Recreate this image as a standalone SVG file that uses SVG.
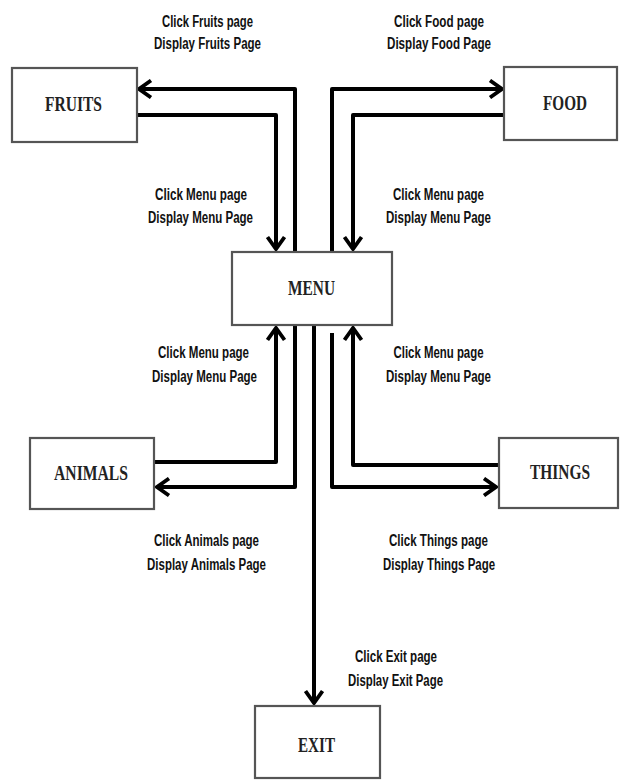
<svg xmlns="http://www.w3.org/2000/svg" width="622" height="780" viewBox="0 0 622 780">
<style>
.box{fill:#fff;stroke:#555;stroke-width:2.2}
.nl{font-family:"Liberation Serif","Times New Roman",serif;font-weight:bold;font-size:22px;fill:#222;text-anchor:middle}
.lb{font-family:"Liberation Sans",Arial,sans-serif;font-weight:bold;font-size:16px;fill:#111;text-anchor:middle}
.c{fill:none;stroke:#000;stroke-width:4;stroke-linejoin:round}
</style>
<defs>
<marker id="ah" viewBox="0 0 18 20" refX="15" refY="10" markerWidth="18" markerHeight="20" markerUnits="userSpaceOnUse" orient="auto">
<path d="M3,1.5 L15,10 L3,18.5" fill="none" stroke="#000" stroke-width="3.8" stroke-linejoin="miter"/>
</marker>
</defs>
<rect width="622" height="780" fill="#fff"/>
<g id="connectors">
<path class="c" d="M295,252 V89 H139" marker-end="url(#ah)"/>
<path class="c" d="M137,115 H276 V249" marker-end="url(#ah)"/>
<path class="c" d="M332,252 V89 H502" marker-end="url(#ah)"/>
<path class="c" d="M504,115 H353 V249" marker-end="url(#ah)"/>
<path class="c" d="M154,462 H276 V328" marker-end="url(#ah)"/>
<path class="c" d="M295,325 V487 H157" marker-end="url(#ah)"/>
<path class="c" d="M499,465 H353 V328" marker-end="url(#ah)"/>
<path class="c" d="M332,333 V487 H496" marker-end="url(#ah)"/>
<path class="c" d="M314,325 V703" marker-end="url(#ah)"/>
</g>
<g id="menu">
<rect class="box" x="232" y="252" width="160" height="73"/>
<text class="nl" x="311.5" y="295" textLength="47" lengthAdjust="spacingAndGlyphs">MENU</text>
</g>
<g id="fruits">
<rect class="box" x="12" y="68" width="125" height="74"/>
<text class="nl" x="73.5" y="111" textLength="57" lengthAdjust="spacingAndGlyphs">FRUITS</text>
</g>
<g id="food">
<rect class="box" x="504" y="67" width="113" height="73"/>
<text class="nl" x="565" y="110" textLength="44" lengthAdjust="spacingAndGlyphs">FOOD</text>
</g>
<g id="animals">
<rect class="box" x="30" y="438" width="124" height="71"/>
<text class="nl" x="91" y="480" textLength="74" lengthAdjust="spacingAndGlyphs">ANIMALS</text>
</g>
<g id="things">
<rect class="box" x="499" y="438" width="119" height="70"/>
<text class="nl" x="560" y="479" textLength="60" lengthAdjust="spacingAndGlyphs">THINGS</text>
</g>
<g id="exit">
<rect class="box" x="255" y="706" width="125" height="72"/>
<text class="nl" x="316.5" y="752" textLength="37" lengthAdjust="spacingAndGlyphs">EXIT</text>
</g>
<g id="labels">
<text class="lb" x="207.5" y="27" textLength="91" lengthAdjust="spacingAndGlyphs">Click Fruits page</text>
<text class="lb" x="207.5" y="49" textLength="107" lengthAdjust="spacingAndGlyphs">Display Fruits Page</text>
<text class="lb" x="439" y="27" textLength="90" lengthAdjust="spacingAndGlyphs">Click Food page</text>
<text class="lb" x="439" y="49" textLength="104" lengthAdjust="spacingAndGlyphs">Display Food Page</text>
<text class="lb" x="201" y="200" textLength="92" lengthAdjust="spacingAndGlyphs">Click Menu page</text>
<text class="lb" x="200.5" y="223" textLength="105" lengthAdjust="spacingAndGlyphs">Display Menu Page</text>
<text class="lb" x="438.5" y="200" textLength="91" lengthAdjust="spacingAndGlyphs">Click Menu page</text>
<text class="lb" x="438.5" y="223" textLength="105" lengthAdjust="spacingAndGlyphs">Display Menu Page</text>
<text class="lb" x="203.5" y="358" textLength="91" lengthAdjust="spacingAndGlyphs">Click Menu page</text>
<text class="lb" x="204.5" y="382" textLength="105" lengthAdjust="spacingAndGlyphs">Display Menu Page</text>
<text class="lb" x="438.5" y="358" textLength="90" lengthAdjust="spacingAndGlyphs">Click Menu page</text>
<text class="lb" x="438.5" y="382" textLength="105" lengthAdjust="spacingAndGlyphs">Display Menu Page</text>
<text class="lb" x="206.5" y="546" textLength="105" lengthAdjust="spacingAndGlyphs">Click Animals page</text>
<text class="lb" x="206.5" y="570" textLength="119" lengthAdjust="spacingAndGlyphs">Display Animals Page</text>
<text class="lb" x="438.5" y="546" textLength="99" lengthAdjust="spacingAndGlyphs">Click Things page</text>
<text class="lb" x="439" y="570" textLength="112" lengthAdjust="spacingAndGlyphs">Display Things Page</text>
<text class="lb" x="396" y="662" textLength="82" lengthAdjust="spacingAndGlyphs">Click Exit page</text>
<text class="lb" x="395.5" y="686" textLength="95" lengthAdjust="spacingAndGlyphs">Display Exit Page</text>
</g>
</svg>
